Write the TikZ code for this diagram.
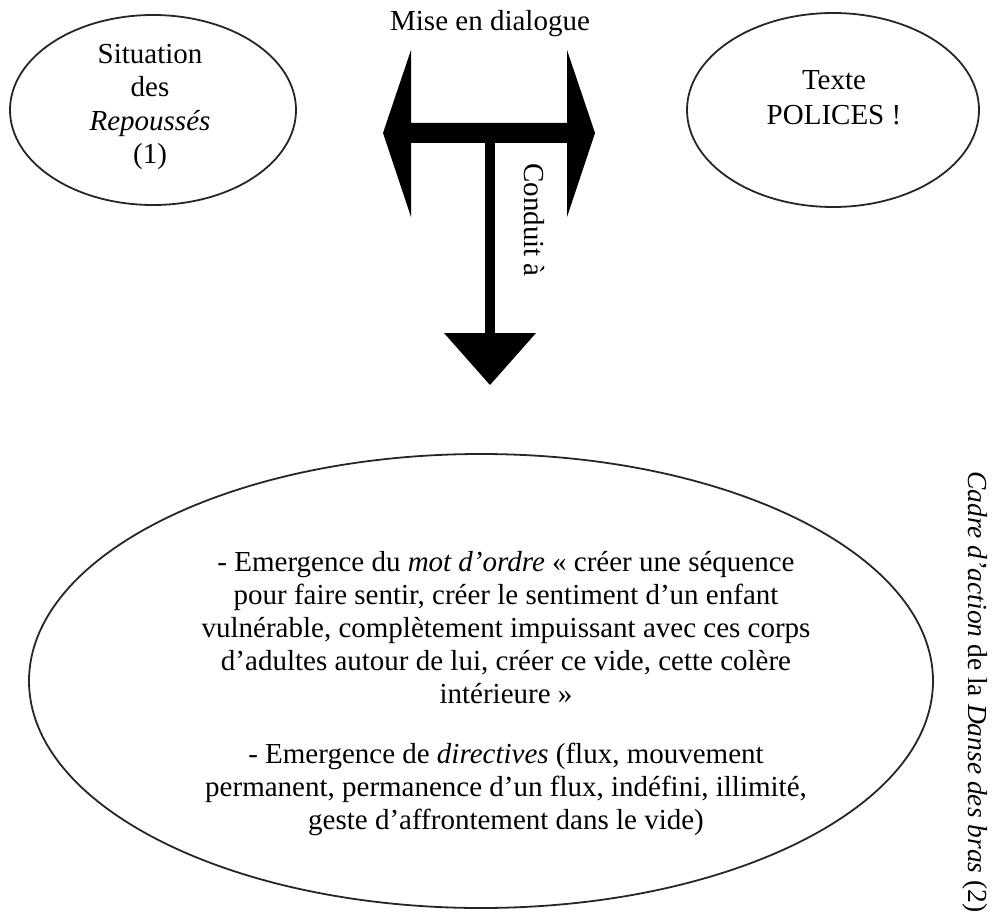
\documentclass[tikz,border=0pt]{standalone}
\usepackage{fontspec}
\setmainfont{Liberation Serif}
\begin{document}
\begin{tikzpicture}[x=1pt,y=-1pt,
  oval/.style={draw=black!85,line width=1.8pt},
  txt/.style={align=center,inner sep=0pt,font=\fontsize{29}{33}\selectfont},
  arrowfill/.style={fill=black,draw=none}]
\useasboundingbox (0,0) rectangle (995,920);
% ellipses
\draw[oval] (153,110) ellipse [x radius=143,y radius=95];
\node[txt,font=\fontsize{29}{33.5}\selectfont] (sit) at (150,107) {Situation\\des\\\textit{Repoussés}\\(1)};
\draw[oval] (833,110) ellipse [x radius=146,y radius=97];
\node[txt,font=\fontsize{29}{35}\selectfont] (pol) at (834,98) {Texte\\POLICES !};
\draw[oval] (481,681) ellipse [x radius=452,y radius=227];
\node[txt] (emerg) at (506,694) {- Emergence du \textit{mot d’ordre} « créer une séquence\\
pour faire sentir, créer le sentiment d’un enfant\\
vulnérable, complètement impuissant avec ces corps\\
d’adultes autour de lui, créer ce vide, cette colère\\
intérieure »\\[27pt]
- Emergence de \textit{directives} (flux, mouvement\\
permanent, permanence d’un flux, indéfini, illimité,\\
geste d’affrontement dans le vide)};
% arrows
\coordinate (L) at (383,133);
\coordinate (R) at (595,133);
\coordinate (D) at (490,385);
\fill[arrowfill] (L) -- (411,50) -- (411,123) -- (567,123) -- (567,50) -- (R)
  -- (567,217) -- (567,143) -- (411,143) -- (411,217) -- cycle;
\fill[arrowfill] (485,140) rectangle (495,334);
\fill[arrowfill] (444,333) -- (536,333) -- (D) -- cycle;
\node[txt] (mise) at (490,24) {Mise en dialogue};
\node[txt,rotate=-90] (cond) at (534,220) {Conduit à};
\node[txt,font=\fontsize{27.5}{30}\selectfont,rotate=-90] (cadre) at (975,692) {\textit{Cadre d’action} de la \textit{Danse des bras} (2)};
\end{tikzpicture}
\end{document}
